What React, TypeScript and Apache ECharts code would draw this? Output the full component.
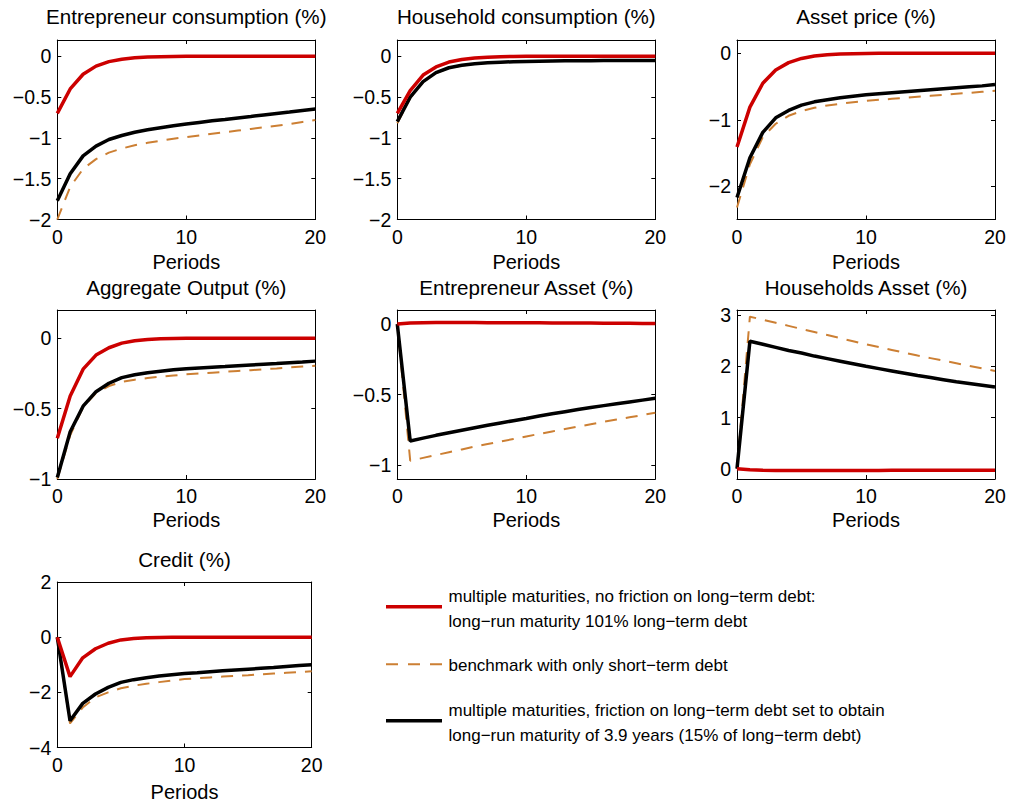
import React, { useEffect, useRef } from "react";
import * as echarts from "echarts";

// ---------- data ----------
const periods = [0, 1, 2, 3, 4, 5, 6, 7, 8, 9, 10, 11, 12, 13, 14, 15, 16, 17, 18, 19, 20];
const xTicks = [0, 10, 20];

const seriesNames = [
  "benchmark with only short-term debt",
  "multiple maturities, friction on long-term debt",
  "multiple maturities, no friction on long-term debt",
];

// Entrepreneur consumption (%)
const entConsRed = [-0.7, -0.4, -0.22, -0.12, -0.065, -0.035, -0.018, -0.009, -0.004, -0.002, 0, 0, 0, 0, 0, 0, 0, 0, 0, 0, 0];
const entConsBlack = [-1.77, -1.44, -1.22, -1.1, -1.02, -0.97, -0.93, -0.9, -0.875, -0.852, -0.83, -0.81, -0.79, -0.773, -0.755, -0.737, -0.718, -0.7, -0.682, -0.663, -0.645];
const entConsDash = [-2.0, -1.6, -1.38, -1.26, -1.18, -1.13, -1.09, -1.06, -1.035, -1.01, -0.99, -0.97, -0.95, -0.93, -0.91, -0.89, -0.87, -0.85, -0.83, -0.805, -0.78];

// Household consumption (%)
const hhConsRed = [-0.7, -0.42, -0.23, -0.13, -0.07, -0.038, -0.02, -0.01, -0.005, -0.002, 0, 0, 0, 0, 0, 0, 0, 0, 0, 0, 0];
const hhConsBlack = [-0.8, -0.5, -0.31, -0.2, -0.14, -0.11, -0.09, -0.08, -0.072, -0.066, -0.062, -0.059, -0.057, -0.055, -0.054, -0.053, -0.052, -0.051, -0.05, -0.05, -0.05];
const hhConsDash = [-0.82, -0.51, -0.315, -0.205, -0.145, -0.113, -0.093, -0.082, -0.074, -0.068, -0.064, -0.061, -0.059, -0.057, -0.056, -0.055, -0.054, -0.053, -0.052, -0.052, -0.052];

// Asset price (%)
const assetPriceRed = [-1.41, -0.81, -0.45, -0.25, -0.14, -0.077, -0.042, -0.022, -0.011, -0.005, -0.002, 0, 0, 0, 0, 0, 0, 0, 0, 0, 0];
const assetPriceBlack = [-2.17, -1.57, -1.19, -0.97, -0.86, -0.78, -0.73, -0.7, -0.67, -0.645, -0.625, -0.61, -0.595, -0.58, -0.565, -0.55, -0.535, -0.52, -0.505, -0.49, -0.47];
const assetPriceDash = [-2.32, -1.67, -1.26, -1.06, -0.94, -0.87, -0.82, -0.785, -0.76, -0.735, -0.715, -0.7, -0.685, -0.67, -0.655, -0.64, -0.625, -0.61, -0.595, -0.58, -0.565];

// Aggregate Output (%)
const outputRed = [-0.71, -0.41, -0.22, -0.12, -0.068, -0.035, -0.018, -0.009, -0.004, -0.002, 0, 0, 0, 0, 0, 0, 0, 0, 0, 0, 0];
const outputBlack = [-0.99, -0.665, -0.483, -0.38, -0.32, -0.28, -0.26, -0.245, -0.235, -0.225, -0.217, -0.212, -0.207, -0.202, -0.196, -0.19, -0.185, -0.18, -0.174, -0.169, -0.163];
const outputDash = [-1.0, -0.69, -0.49, -0.39, -0.34, -0.31, -0.295, -0.283, -0.273, -0.265, -0.257, -0.251, -0.245, -0.239, -0.233, -0.227, -0.221, -0.215, -0.208, -0.202, -0.196];

// Entrepreneur Asset (%)
const entAssetRed = [0, 0.008, 0.01, 0.011, 0.011, 0.011, 0.011, 0.01, 0.01, 0.01, 0.009, 0.009, 0.008, 0.008, 0.007, 0.007, 0.006, 0.006, 0.006, 0.005, 0.005];
const entAssetBlack = [0, -0.83, -0.81, -0.79, -0.772, -0.754, -0.736, -0.719, -0.702, -0.686, -0.67, -0.653, -0.637, -0.622, -0.607, -0.593, -0.579, -0.566, -0.553, -0.54, -0.527];
const entAssetDash = [0, -0.97, -0.95, -0.93, -0.91, -0.89, -0.87, -0.852, -0.834, -0.816, -0.798, -0.78, -0.762, -0.745, -0.728, -0.711, -0.694, -0.678, -0.662, -0.646, -0.63];

// Households Asset (%)
const hhAssetRed = [0, -0.02, -0.03, -0.033, -0.035, -0.035, -0.035, -0.034, -0.034, -0.033, -0.033, -0.032, -0.031, -0.031, -0.03, -0.03, -0.029, -0.028, -0.028, -0.027, -0.027];
const hhAssetBlack = [0, 2.49, 2.43, 2.37, 2.31, 2.26, 2.2, 2.15, 2.1, 2.05, 2.0, 1.955, 1.91, 1.865, 1.82, 1.78, 1.74, 1.7, 1.665, 1.63, 1.595];
const hhAssetDash = [0, 2.97, 2.91, 2.85, 2.79, 2.73, 2.67, 2.61, 2.55, 2.49, 2.43, 2.375, 2.32, 2.265, 2.21, 2.16, 2.11, 2.06, 2.01, 1.96, 1.91];

// Credit (%)
const creditRed = [0, -1.43, -0.75, -0.42, -0.22, -0.1, -0.05, -0.02, -0.01, -0.005, 0, 0, 0, 0, 0, 0, 0, 0, 0, 0, 0];
const creditBlack = [0, -3.03, -2.4, -2.06, -1.82, -1.64, -1.54, -1.47, -1.41, -1.36, -1.32, -1.29, -1.255, -1.22, -1.19, -1.16, -1.13, -1.1, -1.065, -1.03, -1.0];
const creditDash = [0, -3.13, -2.55, -2.18, -2.0, -1.85, -1.76, -1.69, -1.63, -1.57, -1.52, -1.49, -1.46, -1.43, -1.4, -1.38, -1.35, -1.32, -1.29, -1.265, -1.24];

const panelTitles = [
  "Entrepreneur consumption (%)",
  "Household consumption (%)",
  "Asset price (%)",
  "Aggregate Output (%)",
  "Entrepreneur Asset (%)",
  "Households Asset (%)",
  "Credit (%)",
];
const xLabel = "Periods";

const yTicksCons = [-2, -1.5, -1, -0.5, 0];
const yTicksAsset = [-2, -1, 0];
const yTicksOutput = [-1, -0.5, 0];
const yTicksEntAsset = [-1, -0.5, 0];
const yTicksHhAsset = [0, 1, 2, 3];
const yTicksCredit = [-4, -2, 0, 2];

const yRanges = [
  [-2, 0.2],
  [-2, 0.2],
  [-2.5, 0.2],
  [-1, 0.2],
  [-1.1, 0.1],
  [-0.2, 3.1],
  [-4, 2],
];

const legendLines = [
  ["multiple maturities, no friction on long\u2212term debt:", "long\u2212run maturity 101% long\u2212term debt"],
  ["benchmark with only short\u2212term debt"],
  ["multiple maturities, friction on long\u2212term debt set to obtain", "long\u2212run maturity of 3.9 years (15% of long\u2212term debt)"],
];

// ---------- styling / layout ----------
const FONT = "'Liberation Sans', Arial, Helvetica, sans-serif";
const RED = "#CC0000";
const BLACK = "#000000";
const ORANGE = "#CC7F33";

// [left, top, width, height, titleY, xLabelY]
const boxes = [
  [57.3, 40, 258, 179.5, 16.5, 261.7],
  [397.3, 40, 258, 179.5, 16.5, 261.7],
  [737, 40, 258, 179.5, 16.5, 261.7],
  [57.3, 310, 258, 169, 287.5, 520],
  [397.3, 310, 258, 169, 287.5, 520],
  [737, 310, 258, 169, 287.5, 520],
  [57.3, 582, 254.4, 165.5, 559, 791.5],
];

const fmt = (v: number) => String(v).replace("-", "\u2212");

export default function App() {
  const ref = useRef<HTMLDivElement>(null);

  useEffect(() => {
    const chart = echarts.init(ref.current as HTMLDivElement, null, { renderer: "svg" });

    const panels = [
      { red: entConsRed, black: entConsBlack, dash: entConsDash, yTicks: yTicksCons },
      { red: hhConsRed, black: hhConsBlack, dash: hhConsDash, yTicks: yTicksCons },
      { red: assetPriceRed, black: assetPriceBlack, dash: assetPriceDash, yTicks: yTicksAsset },
      { red: outputRed, black: outputBlack, dash: outputDash, yTicks: yTicksOutput },
      { red: entAssetRed, black: entAssetBlack, dash: entAssetDash, yTicks: yTicksEntAsset },
      { red: hhAssetRed, black: hhAssetBlack, dash: hhAssetDash, yTicks: yTicksHhAsset },
      { red: creditRed, black: creditBlack, dash: creditDash, yTicks: yTicksCredit },
    ];

    const grid: any[] = [];
    const xAxis: any[] = [];
    const yAxis: any[] = [];
    const series: any[] = [];
    const graphic: any[] = [];

    const axisLine = { show: true, onZero: false, lineStyle: { color: "#000", width: 1 } };

    panels.forEach((p, i) => {
      const [left, top, width, height, titleY, xLabY] = boxes[i];
      grid.push({ left, top, width, height, containLabel: false });

      const labelStyle = { color: "#000", fontSize: 19.5, fontFamily: FONT };
      // bottom & top x axes
      xAxis.push({
        type: "value", gridIndex: i, min: 0, max: 20, position: "bottom",
        axisLine, splitLine: { show: false },
        axisTick: { show: true, inside: true, length: 4, customValues: xTicks, lineStyle: { color: "#000" } },
        axisLabel: { ...labelStyle, customValues: xTicks, margin: 7, formatter: fmt },
      });
      xAxis.push({
        type: "value", gridIndex: i, min: 0, max: 20, position: "top",
        axisLine, splitLine: { show: false },
        axisTick: { show: true, inside: true, length: 4, customValues: xTicks, lineStyle: { color: "#000" } },
        axisLabel: { show: false },
      });
      const [yMin, yMax] = yRanges[i];
      yAxis.push({
        type: "value", gridIndex: i, min: yMin, max: yMax, position: "left",
        axisLine, splitLine: { show: false },
        axisTick: { show: true, inside: true, length: 4, customValues: p.yTicks, lineStyle: { color: "#000" } },
        axisLabel: { ...labelStyle, customValues: p.yTicks, margin: 6, formatter: fmt },
      });
      yAxis.push({
        type: "value", gridIndex: i, min: yMin, max: yMax, position: "right",
        axisLine, splitLine: { show: false },
        axisTick: { show: true, inside: true, length: 4, customValues: p.yTicks, lineStyle: { color: "#000" } },
        axisLabel: { show: false },
      });

      const mk = (vals: number[]) => periods.map((t, k) => [t, vals[k]]);
      series.push({
        type: "line", name: seriesNames[0], xAxisIndex: 2 * i, yAxisIndex: 2 * i,
        data: mk(p.dash), symbol: "none", silent: true,
        lineStyle: { color: ORANGE, width: 2, type: [12, 9] },
      });
      series.push({
        type: "line", name: seriesNames[1], xAxisIndex: 2 * i, yAxisIndex: 2 * i,
        data: mk(p.black), symbol: "none", silent: true,
        lineStyle: { color: BLACK, width: 3.5 },
      });
      series.push({
        type: "line", name: seriesNames[2], xAxisIndex: 2 * i, yAxisIndex: 2 * i,
        data: mk(p.red), symbol: "none", silent: true,
        lineStyle: { color: RED, width: 3.5 },
      });

      graphic.push({
        type: "text", x: left + width / 2, y: titleY,
        style: { text: panelTitles[i], fill: "#000", font: `20.6px ${FONT}`, align: "center", verticalAlign: "middle" },
      });
      graphic.push({
        type: "text", x: left + width / 2, y: xLabY,
        style: { text: xLabel, fill: "#000", font: `20px ${FONT}`, align: "center", verticalAlign: "middle" },
      });
    });

    // legend
    const legendItems = [
      { color: RED, width: 3.5, dash: "solid", lineY: 606.7, textYs: [596, 621] },
      { color: ORANGE, width: 2, dash: [12, 10], lineY: 664.3, textYs: [665.5] },
      { color: BLACK, width: 3.5, dash: "solid", lineY: 720.7, textYs: [710.5, 735.5] },
    ];
    legendItems.forEach((it, j) => {
      graphic.push({
        type: "line",
        shape: { x1: 386, y1: it.lineY, x2: 442, y2: it.lineY },
        style: { stroke: it.color, lineWidth: it.width, lineDash: it.dash },
      });
      legendLines[j].forEach((txt, k) => {
        graphic.push({
          type: "text", x: 448.5, y: it.textYs[k],
          style: { text: txt, fill: "#000", font: `17px ${FONT}`, align: "left", verticalAlign: "middle" },
        });
      });
    });

    chart.setOption({
      animation: false,
      backgroundColor: "#fff",
      grid,
      xAxis,
      yAxis,
      series,
      graphic,
    });

    return () => chart.dispose();
  }, []);

  return (
    <div
      ref={ref}
      style={{ position: "fixed", left: 0, top: 0, width: 1009, height: 803, background: "#fff" }}
    />
  );
}
